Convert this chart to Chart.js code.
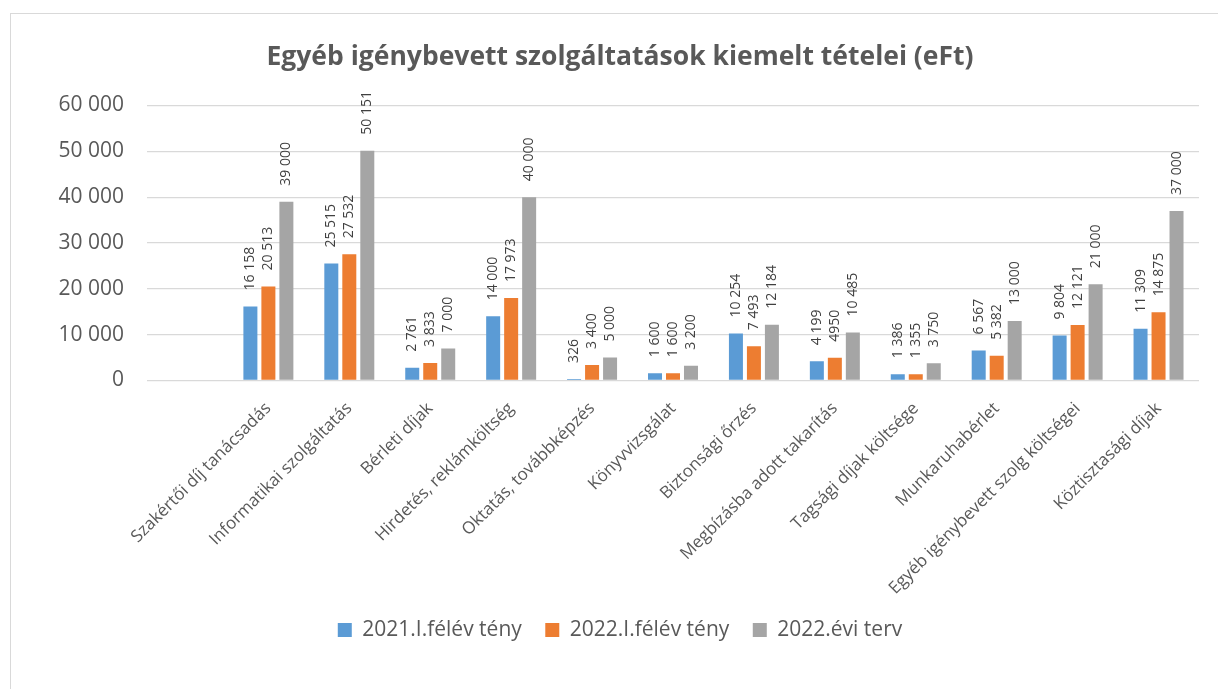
<!DOCTYPE html>
<html>
<head>
<meta charset="utf-8">
<script src="https://cdn.jsdelivr.net/npm/chart.js@4/dist/chart.umd.min.js"></script>
<style>
  html, body { margin: 0; padding: 0; background: #fff; overflow: hidden; }
  #wrap { position: relative; width: 1218px; height: 689px; }
  #frame { position: absolute; left: 10px; top: 13px; width: 1240px; height: 720px; border: 1px solid #d9d9d9; }
  #chart { position: absolute; left: 0; top: 0; }
</style>
</head>
<body>
<div id="wrap">
  <div id="frame"></div>
  <canvas id="chart" width="1218" height="689"></canvas>
</div>
<script>
const categories = [
    'Szakértői díj tanácsadás',
    'Informatikai szolgáltatás',
    'Bérleti díjak',
    'Hirdetés, reklámköltség',
    'Oktatás, továbbképzés',
    'Könyvvizsgálat',
    'Biztonsági őrzés',
    'Megbízásba adott takarítás',
    'Tagsági díjak költsége',
    'Munkaruhabérlet',
    'Egyéb igénybevett szolg költségei',
    'Köztisztasági díjak'
];
const actual2021 = [16158, 25515, 2761, 14000, 326, 1600, 10254, 4199, 1386, 6567, 9804, 11309];
const actual2022 = [20513, 27532, 3833, 17973, 3400, 1600, 7493, 4950, 1355, 5382, 12121, 14875];
const plan2022 = [39000, 50151, 7000, 40000, 5000, 3200, 12184, 10485, 3750, 13000, 21000, 37000];
const seriesNames = ['2021.I.félév tény', '2022.I.félév tény', '2022.évi terv'];
const seriesColors = ['#5b9bd5', '#ed7d31', '#a5a5a5'];
const yTicks = [0, 10000, 20000, 30000, 40000, 50000, 60000];

// the source sheet has an empty first category slot
const labels = [''].concat(categories);
const seriesData = [actual2021, actual2022, plan2022].map(arr => [null].concat(arr));

// one label in the source is shown without digit grouping (4950)
const ungrouped = [[1, 8]];

function fmt(v) {
    return String(v).replace(/\B(?=(\d{3})+(?!\d))/g, ' ');
}

const valueLabels = {
    id: 'valueLabels',
    afterDatasetsDraw(chart) {
        const ctx = chart.ctx;
        ctx.save();
        ctx.font = '14px "Open Sans"';
        ctx.fillStyle = '#404040';
        ctx.textAlign = 'left';
        ctx.textBaseline = 'middle';
        chart.data.datasets.forEach((ds, i) => {
            chart.getDatasetMeta(i).data.forEach((bar, j) => {
                const v = ds.data[j];
                if (v == null) return;
                const raw = ungrouped.some(p => p[0] === i && p[1] === j);
                ctx.save();
                ctx.translate(bar.x, bar.y - 16);
                ctx.rotate(-Math.PI / 2);
                ctx.fillText(raw ? String(v) : fmt(v), 0, 0);
                ctx.restore();
            });
        });
        ctx.restore();
    }
};

Chart.defaults.font.family = '"Open Sans", sans-serif';
Chart.defaults.color = '#595959';

const config = {
    type: 'bar',
    data: {
        labels: labels,
        datasets: seriesData.map((d, i) => ({
            label: seriesNames[i],
            data: d,
            backgroundColor: seriesColors[i],
            borderWidth: 0,
            categoryPercentage: 0.667,
            barPercentage: 0.778
        }))
    },
    options: {
        responsive: false,
        animation: false,
        layout: {
            padding: { left: 41, right: 19, top: 0, bottom: 38.5 }
        },
        plugins: {
            title: {
                display: true,
                text: 'Egyéb igénybevett szolgáltatások kiemelt tételei (eFt)',
                color: '#595959',
                font: { size: 26.5, weight: 'bold' },
                padding: { top: 41.1, bottom: 32.6 }
            },
            legend: {
                position: 'bottom',
                labels: {
                    boxWidth: 14,
                    boxHeight: 14,
                    padding: 23.5,
                    color: '#595959',
                    font: { size: 21 }
                }
            },
            tooltip: { enabled: false }
        },
        scales: {
            x: {
                grid: { display: false },
                border: { display: false },
                ticks: {
                    autoSkip: false,
                    minRotation: 45,
                    maxRotation: 45,
                    padding: 10,
                    color: '#595959',
                    font: { size: 17 }
                },
                afterFit(scale) { scale.height = 215.5; }
            },
            y: {
                min: 0,
                max: 60000,
                afterBuildTicks(scale) { scale.ticks = yTicks.map(v => ({ value: v })); },
                grid: { color: '#d9d9d9', lineWidth: 1.3, drawTicks: false },
                border: { display: false },
                ticks: {
                    padding: 23,
                    color: '#595959',
                    font: { size: 21 },
                    callback: v => fmt(v)
                },
                afterFit(scale) { scale.width = 106; }
            }
        }
    },
    plugins: [valueLabels]
};

new Chart(document.getElementById('chart'), config);
</script>
</body>
</html>
